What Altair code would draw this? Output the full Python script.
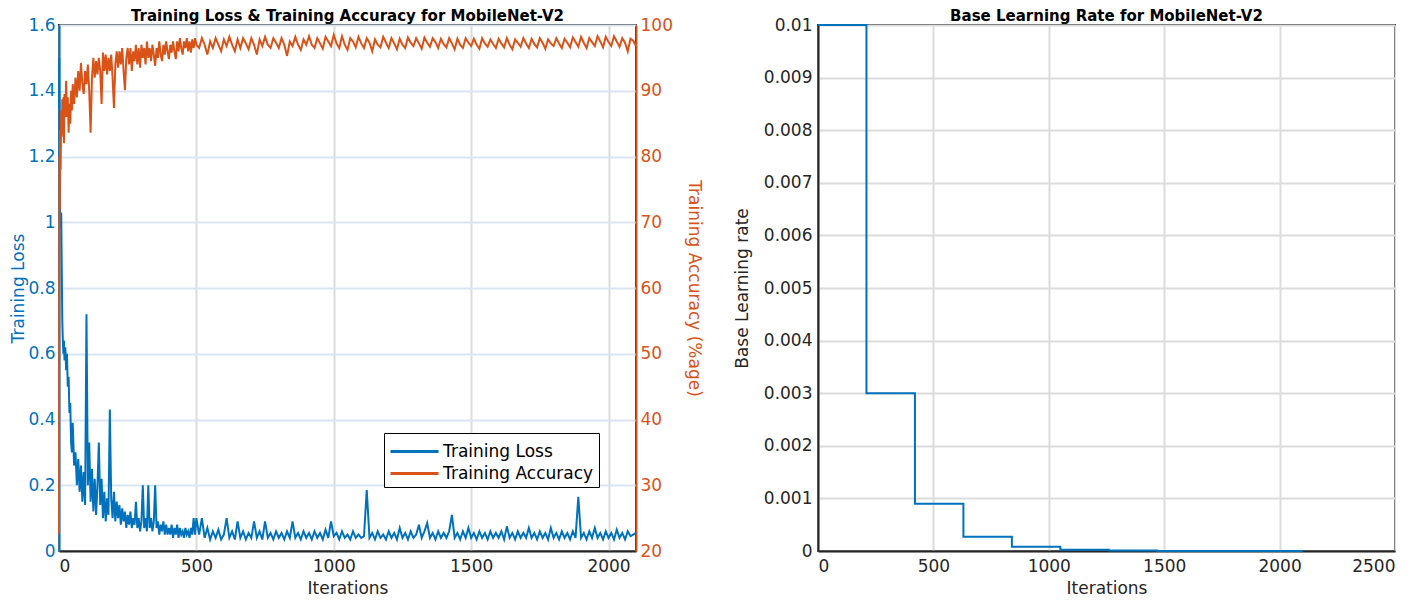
import altair as alt
import pandas as pd

BLUE = "#0072BD"
ORANGE = "#D95319"
DARK = "#262626"
FONT = "DejaVu Sans"

# ---- data ----
iterations = ([0, 1, 2, 3, 4, 6, 8, 10, 12, 14, 16, 18, 20, 23, 26, 29, 32, 35, 38, 41, 44, 47, 50]
              + list(range(55, 505, 5)) + list(range(510, 2110, 10)))

training_loss = [
    1.35, 1.5, 1.25, 1.1, 1.02, 0.98, 1.03, 0.86, 0.7, 0.64, 0.6, 0.64, 0.58, 0.62, 0.55, 0.6, 0.5, 0.53, 0.42, 0.45, 0.33, 0.3, 0.39,
    0.26, 0.3, 0.2, 0.28, 0.18, 0.26, 0.15, 0.24, 0.14, 0.72,
    0.2, 0.33, 0.15, 0.25, 0.12, 0.22, 0.11, 0.2, 0.33, 0.14,
    0.22, 0.1, 0.18, 0.09, 0.16, 0.11, 0.43, 0.16, 0.1, 0.18,
    0.09, 0.15, 0.1, 0.14, 0.08, 0.13, 0.09, 0.12, 0.07, 0.11,
    0.08, 0.12, 0.07, 0.1, 0.08, 0.15, 0.07, 0.1, 0.06, 0.09,
    0.2, 0.07, 0.1, 0.06, 0.2, 0.07, 0.1, 0.06, 0.09, 0.2,
    0.07, 0.09, 0.05, 0.08, 0.06, 0.09, 0.05, 0.08, 0.05, 0.07,
    0.05, 0.08, 0.04, 0.07, 0.05, 0.08, 0.04, 0.07, 0.05, 0.06,
    0.04, 0.07, 0.05, 0.06, 0.04, 0.07, 0.05, 0.1, 0.05, 0.1,
    0.05, 0.1, 0.04, 0.07, 0.035, 0.06, 0.04, 0.065, 0.035, 0.05,
    0.1, 0.04, 0.06, 0.035, 0.09, 0.04, 0.06, 0.035, 0.055, 0.04,
    0.09, 0.04, 0.06, 0.035, 0.09, 0.04, 0.055, 0.035, 0.06, 0.04,
    0.055, 0.035, 0.06, 0.04, 0.09, 0.04, 0.055, 0.035, 0.06, 0.04,
    0.055, 0.035, 0.06, 0.04, 0.055, 0.035, 0.065, 0.04, 0.09, 0.045,
    0.055, 0.035, 0.06, 0.04, 0.05, 0.035, 0.06, 0.04, 0.05, 0.04,
    0.045, 0.185, 0.04, 0.055, 0.035, 0.06, 0.04, 0.05, 0.035, 0.06,
    0.04, 0.055, 0.035, 0.07, 0.04, 0.055, 0.035, 0.06, 0.04, 0.05,
    0.08, 0.04, 0.06, 0.085, 0.04, 0.055, 0.035, 0.06, 0.04, 0.055,
    0.04, 0.06, 0.11, 0.04, 0.055, 0.035, 0.06, 0.04, 0.07, 0.04,
    0.055, 0.035, 0.06, 0.04, 0.055, 0.035, 0.06, 0.04, 0.055, 0.04,
    0.06, 0.035, 0.075, 0.04, 0.055, 0.035, 0.06, 0.04, 0.055, 0.04,
    0.07, 0.04, 0.055, 0.035, 0.06, 0.04, 0.055, 0.035, 0.07, 0.04,
    0.055, 0.035, 0.06, 0.04, 0.055, 0.035, 0.06, 0.04, 0.165, 0.04,
    0.055, 0.035, 0.06, 0.04, 0.07, 0.04, 0.055, 0.035, 0.06, 0.04,
    0.055, 0.035, 0.065, 0.04, 0.055, 0.035, 0.06, 0.045, 0.05, 0.055,
]

training_accuracy = [
    22.6, 62, 80, 72, 84, 78, 87, 83, 88.7, 84, 89, 82, 89.5, 86, 91.5, 86, 89, 83.6, 88, 85, 90, 87, 91,
    88, 92, 89, 93, 90, 94.2, 91, 89.5, 93, 91,
    94, 90, 83.6, 92, 95, 92, 94.5, 92.5, 95, 93,
    88, 95.8, 93, 95.5, 92.5, 95, 93, 95.5, 92, 87.4,
    94, 96, 93.5, 96, 94, 96.5, 93, 90.1, 95, 96.5,
    94, 96.5, 93, 96, 94.5, 97, 94, 96.5, 93.5, 97,
    95, 96.5, 94, 97.5, 95, 96.5, 94.5, 97, 95.5, 93.8,
    96.5, 95, 97.5, 95.5, 94.5, 97, 95.5, 97.5, 96, 94.8,
    97, 95.8, 97.5, 96, 94.8, 97.5, 96, 98, 96.5, 95.5,
    97.5, 96.5, 98, 96, 97.5, 95.8, 97.8, 96.5, 98, 97,
    96.5, 98, 97, 95.5, 97.5, 96.5, 98, 97, 96, 97.8,
    96.8, 98.2, 97, 96, 97.8, 96.5, 98, 97.2, 96.3, 98,
    97, 95.5, 97.8, 96.8, 98.2, 97, 96.5, 98, 97.3, 96.5,
    98, 97, 95.3, 97.5, 96.8, 98.2, 97, 96.2, 97.8, 97,
    98.3, 97, 96.5, 98, 97.2, 96.4, 98.2, 97.5, 96.8, 98.5,
    97.2, 96.5, 98.3, 97, 96.2, 98, 97.5, 96.6, 98.2, 97.2,
    96.5, 98, 97.3, 96, 97.8, 97, 96.6, 98.2, 97.3, 96.5,
    98, 97.2, 96.3, 97.9, 97, 96.5, 98.1, 97.3, 96.8, 98,
    97.2, 96.4, 98.1, 97.3, 96.7, 98, 97.4, 96.5, 97.9, 97.1,
    96.6, 98, 97.2, 96.3, 97.9, 97, 96.5, 98, 97.3, 96.8,
    97.9, 97, 96.4, 98, 97.2, 96.7, 97.8, 97.1, 96.5, 97.9,
    97.2, 96.6, 98, 97, 96.3, 97.8, 97.3, 96.7, 98, 97.2,
    96.5, 97.9, 97.1, 96.6, 98, 97.3, 96.4, 97.8, 97.2, 96.8,
    98, 97.2, 96.5, 97.9, 97.3, 96.6, 98.1, 97.4, 96.7, 98.2,
    97.3, 96.5, 98, 97.4, 96.8, 98.3, 97.5, 96.6, 98.2, 97.4,
    96.8, 98.3, 97.5, 96.7, 98, 97.3, 96, 97.9, 97.6, 96.8,
]

lr_iterations = [0, 210, 420, 630, 840, 1050, 1260, 1470, 1680, 1890, 2100]
base_learning_rate = [0.01, 0.003, 0.0009, 0.00027, 0.000081, 0.0000243,
                      0.0000073, 0.0000022, 0.00000066, 0.0000002, 0.0000002]

series_names = ["Training Loss", "Training Accuracy"]
left_x_ticks = [0, 500, 1000, 1500, 2000]
loss_ticks = [0, 0.2, 0.4, 0.6, 0.8, 1.0, 1.2, 1.4, 1.6]
acc_ticks = [20, 30, 40, 50, 60, 70, 80, 90, 100]
right_x_ticks = [0, 500, 1000, 1500, 2000, 2500]
lr_ticks = [0, 0.001, 0.002, 0.003, 0.004, 0.005, 0.006, 0.007, 0.008, 0.009, 0.01]

train_df = pd.DataFrame({"Iteration": iterations, "Loss": training_loss,
                         "Accuracy": training_accuracy})
lr_df = pd.DataFrame({"Iteration": lr_iterations, "LR": base_learning_rate})

W, H = 577, 526

color_scale = alt.Scale(domain=series_names, range=[BLUE, ORANGE])

x_left = alt.X("Iteration:Q", scale=alt.Scale(domain=[0, 2100], nice=False),
               axis=alt.Axis(title="Iterations", values=left_x_ticks, format="d",
                             gridColor="#dcdcdc", labelPadding=7, titlePadding=6))

legend = alt.Legend(title=None, orient="none", legendX=325, legendY=408,
                    direction="vertical", symbolType="M-1,0H3", symbolSize=576,
                    symbolStrokeWidth=3, labelOffset=27, labelFontSize=17, labelFont=FONT,
                    labelColor="black", strokeColor="black", fillColor="white",
                    padding=5, rowPadding=0, labelLimit=400)

loss_line = alt.Chart(train_df).transform_calculate(series="'Training Loss'").mark_line(
    strokeWidth=2).encode(
    x=x_left,
    y=alt.Y("Loss:Q", scale=alt.Scale(domain=[0, 1.6], nice=False),
            axis=alt.Axis(title="Training Loss", orient="left", values=loss_ticks, format="~g",
                          labelColor=BLUE, titleColor=BLUE, domainColor=BLUE,
                          gridColor="#d9e6f2", labelPadding=4, titlePadding=0)),
    color=alt.Color("series:N", scale=color_scale, legend=legend),
)

acc_line = alt.Chart(train_df).transform_calculate(series="'Training Accuracy'").mark_line(
    strokeWidth=2).encode(
    x=x_left,
    y=alt.Y("Accuracy:Q", scale=alt.Scale(domain=[20, 100], nice=False),
            axis=alt.Axis(title="Training Accuracy (%age)", orient="right", values=acc_ticks,
                          labelColor=ORANGE, titleColor=ORANGE, domainColor=ORANGE,
                          grid=False, labelPadding=4, titlePadding=12)),
    color=alt.Color("series:N", scale=color_scale, legend=legend),
)

left = alt.layer(loss_line, acc_line).resolve_scale(y="independent").properties(
    width=W, height=H,
    title=alt.TitleParams("Training Loss & Training Accuracy for MobileNet-V2", frame="group"),
)

right = alt.Chart(lr_df).mark_line(interpolate="step-after", strokeWidth=2, color=BLUE).encode(
    x=alt.X("Iteration:Q", scale=alt.Scale(domain=[0, 2500], nice=False),
            axis=alt.Axis(title="Iterations", values=right_x_ticks, format="d",
                          gridColor="#dcdcdc", labelPadding=7, titlePadding=6)),
    y=alt.Y("LR:Q", scale=alt.Scale(domain=[0, 0.01], nice=False),
            axis=alt.Axis(title="Base Learning rate", values=lr_ticks, format="~g",
                          gridColor="#dcdcdc", labelPadding=6, titlePadding=12)),
).properties(
    width=W, height=H,
    title=alt.TitleParams("Base Learning Rate for MobileNet-V2", frame="group"),
)

chart = alt.hconcat(left, right, spacing=28).properties(padding=0).configure(
    font=FONT
).configure_axis(
    labelFont=FONT, titleFont=FONT, labelFontSize=17, titleFontSize=17,
    titleFontWeight="normal", labelColor=DARK, titleColor=DARK,
    domainColor=DARK, domainWidth=2, gridWidth=2, ticks=False,
).configure_view(
    stroke=DARK, strokeWidth=2,
).configure_title(
    font=FONT, fontSize=15, fontWeight="bold", color="black", offset=-8,
)

chart.save("out.html", embed_options={"renderer": "svg", "actions": False})
